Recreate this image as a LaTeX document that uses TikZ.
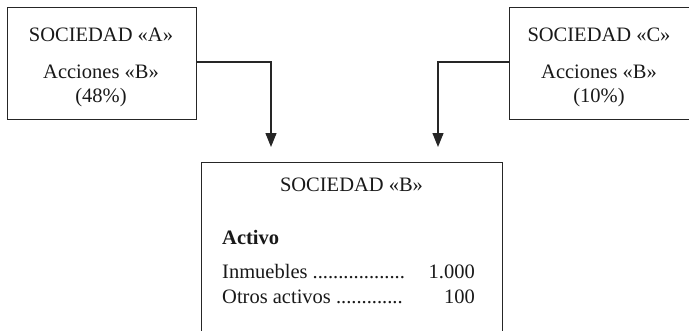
\documentclass[tikz,border=0pt]{standalone}
\usepackage{fontspec}
\setmainfont{Liberation Serif}
\usetikzlibrary{arrows.meta}
\tikzset{
  box/.style={draw=black!85, line width=1.2pt, rectangle, inner sep=0pt, anchor=north west},
  txt/.style={anchor=base, inner sep=0pt, text=black!90},
  link/.style={draw=black!85, line width=1.2pt, -{Triangle[length=14pt,width=11pt]}}
}
\begin{document}
\begin{tikzpicture}[x=1pt, y=-1pt, font=\fontsize{20.5}{24}\selectfont]
\useasboundingbox (0,0) rectangle (689,330);
\clip (0,0) rectangle (689,330);

% company boxes
\node[box, minimum width=189pt, minimum height=112pt] (A) at (7,7) {};
\node[box, minimum width=195pt, minimum height=112pt] (C) at (509,7) {};
\node[box, minimum width=301pt, minimum height=190pt] (B) at (201,162) {};

% texts of company A
\node[txt] (a1) at (101,41) {SOCIEDAD «A»};
\node[txt] (a2) at (101,78) {Acciones «B»};
\node[txt] (a3) at (101,102) {(48\%)};

% texts of company C
\node[txt] (c1) at (599,41) {SOCIEDAD «C»};
\node[txt] (c2) at (599,78) {Acciones «B»};
\node[txt] (c3) at (599,102) {(10\%)};

% texts of company B
\node[txt] (b1) at (351.5,191) {SOCIEDAD «B»};
\node[txt, anchor=base west] (b2) at (222,244) {\bfseries Activo};
\node[txt, anchor=base west] (b3) at (222,278) {Inmuebles ..................};
\node[txt, anchor=base east] (b4) at (475,278) {1.000};
\node[txt, anchor=base west] (b5) at (222,303) {Otros activos .............};
\node[txt, anchor=base east] (b6) at (475,303) {100};

% shareholdings
\coordinate (ta) at (271,147);
\coordinate (tc) at (438,147);
\draw[link] (A.east |- 0,62) -| (ta);
\draw[link] (C.west |- 0,62) -| (tc);
\end{tikzpicture}
\end{document}
